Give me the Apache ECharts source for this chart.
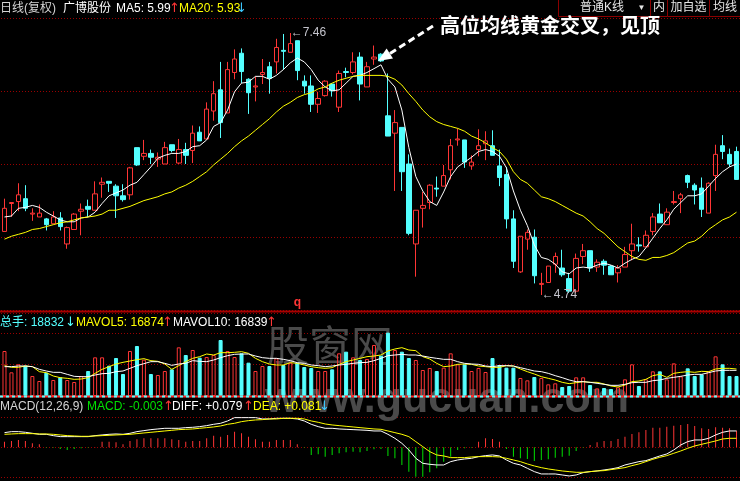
<!DOCTYPE html>
<html><head><meta charset="utf-8">
<script src="https://cdn.jsdelivr.net/npm/echarts@6/dist/echarts.min.js"></script>
<style>html,body{margin:0;padding:0;background:#000;}#c{width:740px;height:481px;}</style>
</head><body><div id="c"></div>
<script>
// ---- price data ----
const opens=[5.40,5.69,5.71,5.74,5.58,5.55,5.53,5.48,5.54,5.27,5.42,5.61,5.66,5.62,5.89,5.92,5.87,5.77,5.78,6.27,6.18,6.21,6.15,6.10,6.30,6.11,6.25,6.24,6.43,6.36,6.65,6.87,6.63,7.05,7.25,6.98,6.90,7.03,7.11,7.16,7.28,7.26,7.38,6.96,6.91,6.72,6.81,6.93,6.69,7.06,7.05,7.21,6.90,7.19,7.24,6.60,6.42,6.48,6.10,5.27,5.64,5.70,5.85,5.87,6.04,6.35,6.35,6.08,6.25,6.31,6.29,6.08,5.99,5.53,4.98,5.32,5.34,4.85,4.87,5.06,5.02,4.91,4.78,5.14,5.20,5.03,5.09,5.04,4.97,5.03,5.20,5.26,5.24,5.40,5.58,5.47,5.70,5.74,5.98,5.88,5.85,5.59,5.98,6.29,6.20,6.23];
const closes=[5.64,5.70,5.78,5.64,5.59,5.59,5.47,5.55,5.45,5.44,5.58,5.63,5.63,5.79,5.91,5.90,5.77,5.73,6.06,6.09,6.21,6.17,6.17,6.27,6.24,6.25,6.19,6.42,6.34,6.67,6.83,6.53,7.08,7.19,7.06,6.84,6.91,7.05,6.99,7.31,7.27,7.35,7.07,6.91,6.72,6.78,6.96,6.86,7.04,7.05,7.16,6.93,7.11,7.21,7.17,6.39,6.53,6.02,5.38,5.62,5.67,5.88,5.84,5.98,6.29,6.36,6.12,6.12,6.29,6.34,6.19,5.96,5.53,5.09,5.35,5.39,4.94,4.86,5.04,5.14,4.95,4.78,5.12,5.20,5.02,5.08,5.05,4.95,5.02,5.16,5.27,5.25,5.36,5.55,5.49,5.60,5.71,5.78,5.91,5.83,5.63,5.90,6.20,6.23,6.10,5.94];
const lows=[5.40,5.55,5.61,5.61,5.51,5.55,5.41,5.48,5.41,5.22,5.42,5.36,5.55,5.62,5.75,5.81,5.54,5.71,5.73,6.08,6.14,6.10,6.07,6.10,6.22,6.10,6.10,6.11,6.34,6.36,6.55,6.37,6.63,6.98,6.94,6.62,6.75,6.93,6.83,7.04,7.08,7.26,6.97,6.83,6.64,6.63,6.80,6.80,6.64,7.00,7.03,6.76,6.90,7.13,7.16,6.39,5.82,5.82,5.36,4.93,5.44,5.63,5.76,5.87,5.94,6.29,6.06,6.04,6.18,6.14,6.19,5.87,5.43,5.02,4.97,5.21,4.86,4.74,4.87,4.97,4.93,4.76,4.76,5.06,4.98,4.98,4.95,4.95,4.87,5.03,5.10,5.19,5.24,5.36,5.49,5.47,5.68,5.59,5.85,5.68,5.55,5.59,5.82,6.15,6.07,5.94];
const highs=[5.74,5.70,5.90,5.88,5.64,5.68,5.54,5.61,5.60,5.45,5.59,5.69,5.73,5.92,5.96,5.92,5.89,5.89,6.07,6.27,6.35,6.25,6.22,6.33,6.30,6.36,6.32,6.50,6.49,6.74,6.96,7.16,7.16,7.29,7.30,6.99,7.01,7.19,7.16,7.40,7.45,7.46,7.38,7.02,7.02,6.85,6.97,6.94,7.07,7.10,7.26,7.26,7.16,7.33,7.25,7.04,6.66,6.48,6.20,5.62,5.81,5.89,5.97,6.09,6.36,6.47,6.35,6.19,6.46,6.44,6.45,6.25,6.07,5.62,5.35,5.42,5.42,4.97,5.04,5.18,5.21,4.97,5.17,5.27,5.20,5.11,5.11,5.05,5.05,5.24,5.48,5.34,5.41,5.59,5.69,5.64,5.82,5.80,5.99,5.90,5.96,5.91,6.30,6.40,6.26,6.28];
const ma5=[5.55,5.56,5.64,5.65,5.67,5.65,5.60,5.56,5.52,5.50,5.50,5.54,5.55,5.60,5.69,5.77,5.80,5.83,5.88,5.91,5.99,6.07,6.16,6.19,6.21,6.21,6.23,6.28,6.29,6.35,6.49,6.53,6.66,6.85,6.94,6.95,7.01,7.01,6.98,7.02,7.08,7.15,7.20,7.16,7.08,6.97,6.90,6.86,6.87,6.94,7.01,7.02,7.05,7.09,7.13,6.98,6.90,6.66,6.27,5.97,5.82,5.71,5.67,5.81,5.97,6.07,6.12,6.17,6.23,6.25,6.23,6.18,6.06,5.82,5.62,5.46,5.26,5.13,5.11,5.06,4.98,4.96,5.02,5.03,5.02,5.05,5.07,5.05,5.02,5.07,5.11,5.14,5.23,5.33,5.43,5.52,5.63,5.70,5.77,5.77,5.79,5.87,5.95,6.02,6.07,6.10];
const ma20=[5.32,5.35,5.37,5.39,5.42,5.43,5.45,5.47,5.49,5.50,5.52,5.54,5.55,5.56,5.58,5.62,5.62,5.64,5.66,5.69,5.72,5.74,5.76,5.79,5.81,5.85,5.88,5.92,5.97,6.02,6.09,6.15,6.21,6.28,6.34,6.39,6.45,6.51,6.57,6.64,6.70,6.74,6.79,6.82,6.84,6.88,6.90,6.94,6.97,6.99,7.01,7.02,7.02,7.02,7.02,7.01,6.98,6.92,6.83,6.75,6.66,6.59,6.54,6.51,6.49,6.47,6.44,6.39,6.36,6.32,6.27,6.23,6.15,6.02,5.94,5.90,5.83,5.76,5.74,5.71,5.67,5.63,5.59,5.56,5.50,5.43,5.38,5.31,5.24,5.19,5.14,5.11,5.10,5.13,5.13,5.15,5.18,5.23,5.28,5.30,5.35,5.42,5.47,5.52,5.55,5.60];
// ---- volume data ----
const vols=[28485,14981,20045,19201,12660,9495,14770,10128,11816,10128,8862,12660,15825,24476,24476,19201,24054,13926,28485,31650,22999,13926,13293,15825,16880,30806,25953,29118,24265,24687,25953,35448,28485,24687,27008,21100,15825,18990,18990,23843,19623,21100,21100,18357,17724,15825,15825,16880,27008,28063,24476,22788,23421,32283,25531,40090,29118,28063,24054,22788,16458,17724,15825,17935,27008,20045,20045,15825,17724,15192,24054,19623,17935,17935,11394,9917,12027,11394,7385,8018,5697,6330,11816,11816,6963,4853,5064,4431,5486,10550,20045,6330,10550,15614,15614,10550,20678,12449,17513,12660,13715,15614,25109,20045,12660,12660];
const mavol5=[19201,18146,18146,18990,18568,15403,14770,12660,11605,11183,10550,10761,11605,14348,16880,18568,20256,21311,22155,22999,23632,22366,21944,20256,16880,19201,21733,23843,24898,26586,25953,27430,27430,27641,28063,27008,23843,21733,20256,19623,19623,21100,20678,19623,18568,17935,17513,17935,20045,21733,22788,23843,24898,25320,25953,28485,29751,30595,29118,28696,24898,23421,20678,18568,18990,20045,20256,20045,18990,18568,18146,18146,19201,18990,17091,15403,13926,12238,11183,10128,8651,7807,8440,9073,8651,8651,7596,6330,5697,6963,9073,9495,10550,12871,13715,11816,14348,14981,15403,14981,15614,15403,17091,17513,17513,17091];
const mavol10=[18568,18568,18990,18990,18568,16880,15825,14981,14981,13715,12449,12238,12238,13293,14137,14348,15403,15825,17513,19201,20467,21733,21733,20678,19412,20256,20678,22366,21944,21733,22788,24265,25531,26375,26586,26586,25320,24265,23843,23843,23210,22366,21100,20678,19623,19201,18568,18990,19623,20045,20678,21100,21311,22366,23843,25531,25953,26375,25953,25953,25320,24476,23843,23210,23210,21733,20678,20256,20045,18990,18568,19201,19201,18990,17935,16880,15825,15403,14348,12871,11605,10128,9073,9073,8651,8018,7385,6752,6752,7385,8440,8651,8651,9706,10128,11183,11816,12449,13293,13715,13715,14770,15825,16247,16247,16247];
// ---- MACD data ----
const diff=[0.176,0.188,0.188,0.180,0.168,0.156,0.156,0.140,0.128,0.128,0.128,0.128,0.128,0.140,0.148,0.156,0.160,0.156,0.168,0.188,0.200,0.212,0.220,0.228,0.228,0.228,0.236,0.240,0.248,0.260,0.276,0.288,0.316,0.356,0.356,0.356,0.356,0.340,0.340,0.348,0.348,0.348,0.340,0.316,0.276,0.248,0.228,0.228,0.220,0.216,0.212,0.208,0.204,0.196,0.196,0.156,0.108,0.048,-0.032,-0.132,-0.192,-0.204,-0.212,-0.212,-0.172,-0.152,-0.140,-0.132,-0.112,-0.100,-0.092,-0.104,-0.152,-0.192,-0.212,-0.252,-0.292,-0.320,-0.320,-0.320,-0.332,-0.344,-0.332,-0.304,-0.292,-0.284,-0.272,-0.260,-0.244,-0.212,-0.192,-0.172,-0.160,-0.132,-0.104,-0.080,-0.032,0.028,0.068,0.088,0.088,0.108,0.148,0.180,0.196,0.196];
const dea=[0.156,0.160,0.164,0.164,0.164,0.160,0.160,0.156,0.148,0.140,0.136,0.132,0.132,0.136,0.140,0.144,0.148,0.152,0.156,0.164,0.172,0.180,0.188,0.196,0.204,0.212,0.216,0.220,0.228,0.236,0.244,0.256,0.276,0.288,0.308,0.320,0.328,0.332,0.340,0.340,0.348,0.348,0.348,0.340,0.316,0.300,0.280,0.268,0.260,0.252,0.244,0.236,0.228,0.220,0.216,0.196,0.176,0.156,0.128,0.068,0.008,-0.052,-0.092,-0.104,-0.124,-0.124,-0.124,-0.116,-0.112,-0.112,-0.112,-0.116,-0.132,-0.152,-0.172,-0.200,-0.224,-0.244,-0.260,-0.272,-0.284,-0.292,-0.300,-0.300,-0.292,-0.284,-0.280,-0.268,-0.256,-0.244,-0.220,-0.200,-0.172,-0.144,-0.120,-0.100,-0.072,-0.044,-0.012,0.016,0.036,0.056,0.076,0.100,0.108,0.108];
const macdHist=[0.068,0.076,0.088,0.076,0.048,0.036,-0.004,-0.004,-0.020,-0.032,-0.020,-0.012,-0.004,0.004,0.068,0.068,0.060,0.036,0.076,0.096,0.108,0.108,0.108,0.108,0.096,0.088,0.068,0.076,0.076,0.108,0.140,0.128,0.148,0.188,0.168,0.128,0.096,0.068,0.068,0.088,0.088,0.088,0.036,-0.004,-0.092,-0.084,-0.112,-0.092,-0.072,-0.060,-0.052,-0.060,-0.044,-0.024,-0.020,-0.104,-0.132,-0.212,-0.292,-0.352,-0.352,-0.300,-0.252,-0.172,-0.112,-0.032,-0.012,-0.004,0.068,0.108,0.100,0.068,-0.020,-0.112,-0.132,-0.140,-0.164,-0.152,-0.144,-0.124,-0.112,-0.100,-0.044,-0.004,0.028,0.060,0.076,0.076,0.100,0.128,0.160,0.180,0.208,0.236,0.236,0.248,0.260,0.268,0.280,0.256,0.228,0.220,0.240,0.236,0.228,0.200];
// ---- annotation values ----
const highMark={index:41,value:7.46,text:'←7.46'};
const lowMark={index:77,value:4.74,text:'←4.74'};
const eventMark={index:42,value:4.66,text:'q'};
const categories=opens.map((_,i)=>'D'+(i+1)); // day slots (dates not shown)

const RED='#ff3535',CYAN='#54ffff',GREEN='#00e000',YEL='#ffff00',WHITE='#ffffff',GRIDC='#9a0000',ACY='#3cc8ff';
const FONT='"Liberation Sans","Noto Sans CJK SC",sans-serif';
const AFONT='13px "DejaVu Sans"';
const up=opens.map((o,i)=>closes[i]>=o);
const candleData=opens.map((o,i)=>[o,closes[i],lows[i],highs[i]]);
const volData=vols.map((v,i)=>({value:v,itemStyle:up[i]?{color:'rgba(0,0,0,0)',borderColor:RED,borderWidth:1}:{color:CYAN,borderColor:CYAN,borderWidth:1}}));
const histData=macdHist.map(v=>({value:v,itemStyle:{color:v>=0?RED:GREEN}}));

const chart=echarts.init(document.getElementById('c'),null,{renderer:'canvas'});
const hidden={axisLine:{show:false},axisTick:{show:false},axisLabel:{show:false}};
const dotted={show:true,lineStyle:{color:GRIDC,type:[1,2],width:1}};
function txt(x,y,s,color,font,center){return {type:'text',x:x,y:y,z:60,style:{text:s,fill:color,font:font||('12px '+FONT),textAlign:center?'center':'left',align:center?'center':'left',textVerticalAlign:'middle',verticalAlign:'middle'}};}
const arrow=(x,y,s,color)=>txt(x,y,s,color,AFONT);
const markLbl=(m,pos,color,bold)=>({coord:[m.index,m.value],symbol:'rect',symbolSize:1,itemStyle:{color:'rgba(0,0,0,0)'},label:{show:true,formatter:m.text,position:pos,distance:0,color:color,fontSize:12,fontFamily:FONT,fontWeight:bold?'bold':'normal'}});

const option={
  backgroundColor:'#000',animation:false,
  grid:[{left:1,width:742,top:18.3,height:292},{left:1,width:742,top:313,height:83},{left:1,width:742,top:417.3,height:60}],
  xAxis:[0,1,2].map(g=>Object.assign({type:'category',gridIndex:g,data:categories,boundaryGap:true,splitLine:{show:false}},hidden)),
  yAxis:[
    Object.assign({type:'value',gridIndex:0,min:4.5811,max:7.6127,splitLine:{show:false}},hidden),
    Object.assign({type:'value',gridIndex:0,min:0,max:4,interval:1,splitLine:dotted},hidden),
    Object.assign({type:'value',gridIndex:1,min:0,max:52539,interval:19845,splitLine:dotted},hidden),
    Object.assign({type:'value',gridIndex:2,min:-0.36,max:0.36,interval:0.36,splitLine:dotted},hidden)
  ],
  series:[
    {type:'candlestick',xAxisIndex:0,yAxisIndex:0,data:candleData,barWidth:5,
     itemStyle:{color:'rgba(0,0,0,0)',color0:CYAN,borderColor:RED,borderColor0:CYAN,borderWidth:1},
     markPoint:{silent:true,data:[markLbl(highMark,'right','#c4c4cc'),markLbl(lowMark,'right','#c4c4cc'),markLbl(eventMark,'inside',RED,true)]}},
    {type:'line',xAxisIndex:0,yAxisIndex:0,data:ma5,symbol:'none',lineStyle:{color:WHITE,width:1},z:3},
    {type:'line',xAxisIndex:0,yAxisIndex:0,data:ma20,symbol:'none',lineStyle:{color:YEL,width:1},z:3},
    {type:'bar',xAxisIndex:1,yAxisIndex:2,data:volData,barWidth:4},
    {type:'line',xAxisIndex:1,yAxisIndex:2,data:mavol5,symbol:'none',lineStyle:{color:YEL,width:1},z:3},
    {type:'line',xAxisIndex:1,yAxisIndex:2,data:mavol10,symbol:'none',lineStyle:{color:WHITE,width:1},z:3},
    {type:'bar',xAxisIndex:2,yAxisIndex:3,data:histData,barWidth:1},
    {type:'line',xAxisIndex:2,yAxisIndex:3,data:diff,symbol:'none',lineStyle:{color:WHITE,width:1},z:3},
    {type:'line',xAxisIndex:2,yAxisIndex:3,data:dea,symbol:'none',lineStyle:{color:YEL,width:1},z:3}
  ],
  graphic:{elements:[
    // watermarks (behind series)
    {type:'text',x:330,y:345,z:1,style:{text:'股窗网',fill:'#4a4a4a',font:'42px "Noto Sans CJK SC"',textAlign:'center',align:'center',textVerticalAlign:'middle',verticalAlign:'middle'}},
    {type:'text',x:265,y:400,z:1,style:{text:'www.gucuan.com',fill:'#4a4a4a',font:'bold 43px "Liberation Sans"',textVerticalAlign:'middle',verticalAlign:'middle'}},
    // separators
    {type:'line',z:55,shape:{x1:0,y1:311.5,x2:740,y2:311.5},style:{stroke:'#a80000',lineWidth:2}},
    {type:'line',z:55,shape:{x1:0,y1:396.5,x2:740,y2:396.5},style:{stroke:'#ff2a2a',lineWidth:2}},
    {type:'line',z:56,shape:{x1:0,y1:396.5,x2:740,y2:396.5},style:{stroke:CYAN,lineWidth:2,lineDash:[3,3]}},
    // header row
    txt(0,8.5,'日线(复权)','#d4d4d4'),
    txt(63,8.5,'广博股份',WHITE),
    txt(116,8.5,'MA5: 5.99',WHITE),
    arrow(169,8.5,'↑',RED),
    txt(179,8.5,'MA20: 5.93',YEL),
    arrow(236,8.5,'↓',ACY),
    {type:'rect',z:55,shape:{x:558.5,y:-1,width:92,height:17.5},style:{fill:'#000',stroke:'#8b0000',lineWidth:1}},
    {type:'rect',z:55,shape:{x:650.5,y:-1,width:17,height:17.5},style:{fill:'#000',stroke:'#8b0000',lineWidth:1}},
    {type:'rect',z:55,shape:{x:667.5,y:-1,width:42,height:17.5},style:{fill:'#000',stroke:'#8b0000',lineWidth:1}},
    {type:'rect',z:55,shape:{x:709.5,y:-1,width:31,height:17.5},style:{fill:'#000',stroke:'#8b0000',lineWidth:1}},
    txt(602,8,'普通K线','#e6e6e6',null,true),
    txt(641.5,8,'▼','#e6e6e6','8px '+FONT,true),
    txt(659,8,'内','#e6e6e6',null,true),
    txt(688.5,8,'加自选','#e6e6e6',null,true),
    txt(725,8,'均线','#e6e6e6',null,true),
    // annotation
    {type:'text',x:440,y:25.5,z:60,style:{text:'高位均线黄金交叉，见顶',fill:WHITE,font:'bold 20px "Noto Sans CJK SC"',textVerticalAlign:'middle',verticalAlign:'middle'}},
    {type:'polyline',z:60,shape:{points:[[433,26],[390,53.5]]},style:{stroke:WHITE,lineWidth:3,lineDash:[7,4],fill:null}},
    {type:'polygon',z:60,shape:{points:[[378,61],[393,58.6],[386.6,48.4]]},style:{fill:WHITE}},
    // volume header
    txt(0,322.5,'总手: 18832',CYAN),
    arrow(65,322.5,'↓',CYAN),
    txt(76,322.5,'MAVOL5: 16874',YEL),
    arrow(162,322.5,'↑',RED),
    txt(173,322.5,'MAVOL10: 16839',WHITE),
    arrow(266,322.5,'↑',RED),
    // macd header
    txt(0,406.5,'MACD(12,26,9)','#d4d4d4'),
    txt(87,406.5,'MACD: -0.003',GREEN),
    arrow(163,406.5,'↑',RED),
    txt(172,406.5,'DIFF: +0.079',WHITE),
    arrow(243,406.5,'↑',RED),
    txt(253,406.5,'DEA: +0.081',YEL),
    arrow(319,406.5,'↓',ACY)
  ]}
};
chart.setOption(option);
</script></body></html>
